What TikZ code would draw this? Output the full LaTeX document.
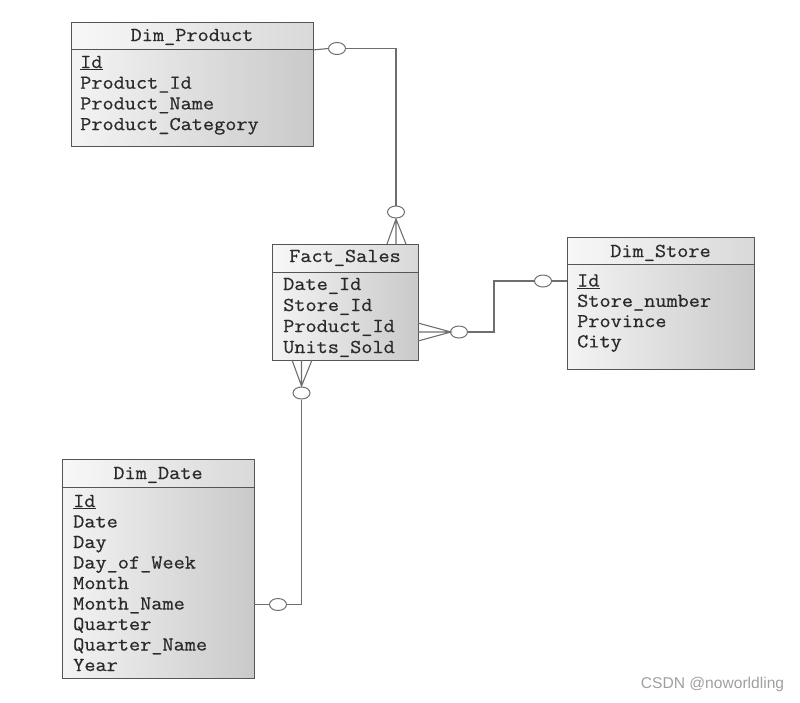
\documentclass[tikz,border=0pt]{standalone}
\usepackage{fontspec}
\setmonofont{Latin Modern Mono}[FakeStretch=1.1, FakeBold=0.6]
\newfontfamily\wmfont{Liberation Sans}
\usetikzlibrary{shapes.geometric}
\definecolor{edgec}{HTML}{555555}
\definecolor{connc}{HTML}{6E6E6E}
\definecolor{txtc}{HTML}{2A2A2A}
\tikzset{
  hdr/.style={draw=edgec, line width=0.9pt, anchor=north west, inner sep=0pt,
    left color=white!97!black, right color=gray!30},
  body/.style={draw=edgec, line width=0.9pt, anchor=north west, inner sep=0pt,
    left color=gray!9, right color=gray!42},
  ttl/.style={anchor=base, inner sep=0pt, font=\ttfamily\fontsize{19.7}{20}\selectfont, text=txtc},
  fld/.style={anchor=base west, inner sep=0pt, font=\ttfamily\fontsize{19.7}{20}\selectfont, text=txtc},
  conn/.style={draw=connc, line width=1.1pt},
  oc/.style={ellipse, draw=connc, line width=1pt, fill=white, inner sep=0pt, minimum width=17pt, minimum height=12pt},
  wm/.style={font=\wmfont\fontsize{15.6}{16}\selectfont, text=gray!75, inner sep=0pt}
}
\begin{document}
\begin{tikzpicture}[x=1pt,y=-1pt]
\useasboundingbox (0,0) rectangle (800,702);
% Dim_Product
\node[hdr, minimum width=242pt, minimum height=27pt] (prodh) at (71,22) {};
\node[body, minimum width=242pt, minimum height=97pt] (prodb) at (71,49) {};
\node[ttl] (prodt) at (192,41) {Dim\_Product};
\foreach \t [count=\i] in {\underline{Id},Product\_Id,Product\_Name,Product\_Category}
  \node[fld] (prodf\i) at (80,{68+20.7*(\i-1)}) {\t};
% Fact_Sales
\node[hdr, minimum width=146pt, minimum height=28pt] (facth) at (272,244) {};
\node[body, minimum width=146pt, minimum height=88pt] (factb) at (272,272) {};
\node[ttl] (factt) at (345,262) {Fact\_Sales};
\foreach \t [count=\i] in {Date\_Id,Store\_Id,Product\_Id,Units\_Sold}
  \node[fld] (factf\i) at (283,{290+21*(\i-1)}) {\t};
% Dim_Store
\node[hdr, minimum width=187pt, minimum height=27pt] (storeh) at (567,237) {};
\node[body, minimum width=187pt, minimum height=105pt] (storeb) at (567,264) {};
\node[ttl] (storet) at (660.5,257) {Dim\_Store};
\foreach \t [count=\i] in {\underline{Id},Store\_number,Province,City}
  \node[fld] (storef\i) at (577,{286.5+20.3*(\i-1)}) {\t};
% Dim_Date
\node[hdr, minimum width=192pt, minimum height=28pt] (dateh) at (62,459) {};
\node[body, minimum width=192pt, minimum height=191pt] (dateb) at (62,487) {};
\node[ttl] (datet) at (158,479) {Dim\_Date};
\foreach \t [count=\i] in {\underline{Id},Date,Day,Day\_of\_Week,Month,Month\_Name,Quarter,Quarter\_Name,Year}
  \node[fld] (datef\i) at (73,{507+20.5*(\i-1)}) {\t};
% connector Product -> Fact
\node[oc] (c1) at (337,48.5) {};
\node[oc] (c2) at (396,212) {};
\coordinate (k1) at (396,48.5);
\coordinate (p1) at (396,219);
\coordinate (f1a) at (387,244);
\coordinate (f1b) at (396,244);
\coordinate (f1c) at (406,244);
\draw[conn] (prodh.south east) -- (c1.west);
\draw[conn] (c1.east) -- (k1) -- (c2.north);
\draw[conn] (f1a) -- (p1) -- (f1c) (p1) -- (f1b);
% connector Fact -> Store
\node[oc] (c3) at (459,332) {};
\node[oc] (c4) at (543,281) {};
\coordinate (p2) at (451,332);
\coordinate (f2a) at (418,323);
\coordinate (f2b) at (418,332);
\coordinate (f2c) at (418,341);
\coordinate (k2) at (494,332);
\coordinate (k3) at (494,281);
\coordinate (s1) at (567,281);
\draw[conn] (f2a) -- (p2) -- (f2c) (p2) -- (f2b);
\draw[conn] (c3.east) -- (k2) -- (k3) -- (c4.west);
\draw[conn] (c4.east) -- (s1);
% connector Fact -> Date
\node[oc] (c5) at (301.5,393) {};
\node[oc] (c6) at (278,604.5) {};
\coordinate (p3) at (301.5,386);
\coordinate (f3a) at (292,360);
\coordinate (f3b) at (301.5,360);
\coordinate (f3c) at (312,360);
\coordinate (k4) at (301.5,604.5);
\coordinate (d1) at (254,604.5);
\draw[conn] (f3a) -- (p3) -- (f3c) (p3) -- (f3b);
\draw[conn] (c5.south) -- (k4) -- (c6.east);
\draw[conn] (c6.west) -- (d1);
% watermark
\node[wm] (wmk) at (712.5,684) {CSDN @noworldling};
\end{tikzpicture}
\end{document}
